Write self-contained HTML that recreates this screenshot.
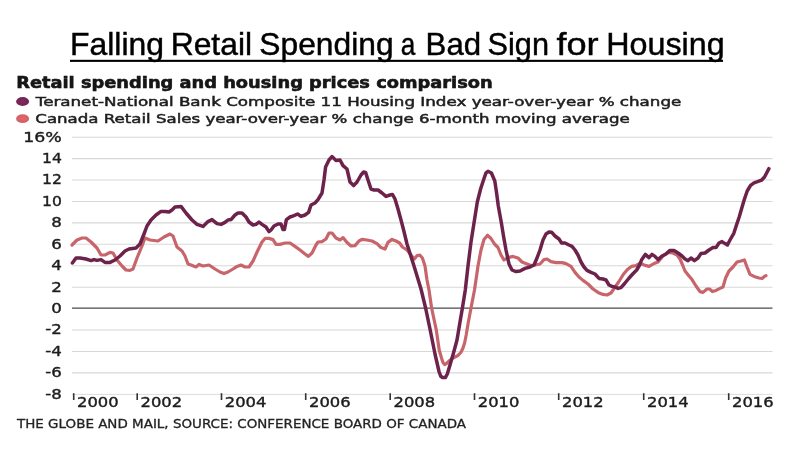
<!DOCTYPE html>
<html lang="en">
<head>
<meta charset="utf-8">
<title>Falling Retail Spending a Bad Sign for Housing</title>
<style>
html,body{margin:0;padding:0;background:#fff;}
body{width:800px;height:450px;overflow:hidden;position:relative;font-family:"Liberation Sans",sans-serif;}
svg{position:absolute;left:0;top:0;display:block;}
.title{font-family:"Liberation Sans",sans-serif;font-size:32px;fill:#000;stroke:#000;stroke-width:0.45px;}
.ct{font-family:"DejaVu Sans","Liberation Sans",sans-serif;font-weight:bold;font-size:15.2px;fill:#141414;stroke:#141414;stroke-width:0.55px;}
.lg{font-family:"DejaVu Sans","Liberation Sans",sans-serif;font-size:13px;fill:#1e1e1e;stroke:#1e1e1e;stroke-width:0.5px;}
.ax text{font-family:"DejaVu Sans","Liberation Sans",sans-serif;font-size:13.3px;fill:#1c1c1c;stroke:#1c1c1c;stroke-width:0.38px;}
.src{font-family:"DejaVu Sans","Liberation Sans",sans-serif;font-size:11.8px;fill:#222;stroke:#222;stroke-width:0.28px;}
</style>
</head>
<body>
<svg width="800" height="450" viewBox="0 0 800 450">
<defs><radialGradient id="gd"><stop offset="0" stop-color="#882a60"/><stop offset="1" stop-color="#6f2450"/></radialGradient><radialGradient id="gl"><stop offset="0" stop-color="#ee5f6a"/><stop offset="1" stop-color="#cd6468"/></radialGradient><filter id="soft" x="0" y="0" width="800" height="450" filterUnits="userSpaceOnUse"><feGaussianBlur stdDeviation="0.45"/></filter></defs>
<rect width="800" height="450" fill="#ffffff"/>
<text class="title" y="55.1"><tspan x="70.01" textLength="94.0" lengthAdjust="spacingAndGlyphs">Falling</tspan> <tspan x="170.66" textLength="81.39" lengthAdjust="spacingAndGlyphs">Retail</tspan> <tspan x="259.31" textLength="134.36" lengthAdjust="spacingAndGlyphs">Spending</tspan> <tspan x="400.73" textLength="14.56" lengthAdjust="spacingAndGlyphs">a</tspan> <tspan x="425.62" textLength="55.51" lengthAdjust="spacingAndGlyphs">Bad</tspan> <tspan x="487.56" textLength="61.4" lengthAdjust="spacingAndGlyphs">Sign</tspan> <tspan x="556.43" textLength="42.24" lengthAdjust="spacingAndGlyphs">for</tspan> <tspan x="606.23" textLength="118.45" lengthAdjust="spacingAndGlyphs">Housing</tspan></text>
<rect x="70" y="59.8" width="653" height="2.1" fill="#000"/>
<g filter="url(#soft)">
<text class="ct" x="16.2" y="87.8" textLength="476.5" lengthAdjust="spacingAndGlyphs">Retail spending and housing prices comparison</text>
<ellipse cx="22.6" cy="101.5" rx="6.5" ry="4.4" fill="url(#gd)"/>
<text class="lg" x="35.8" y="105.8" textLength="645.5" lengthAdjust="spacingAndGlyphs">Teranet-National Bank Composite 11 Housing Index year-over-year % change</text>
<ellipse cx="22.6" cy="118.7" rx="6.5" ry="4.4" fill="url(#gl)"/>
<text class="lg" x="35.3" y="123.4" textLength="594.5" lengthAdjust="spacingAndGlyphs">Canada Retail Sales year-over-year % change 6-month moving average</text>
<g>
<line x1="72" x2="772.5" y1="137.2" y2="137.2" stroke="#d8d8d8" stroke-width="1.1"/>
<line x1="72" x2="772.5" y1="158.6" y2="158.6" stroke="#d8d8d8" stroke-width="1.1"/>
<line x1="72" x2="772.5" y1="180.0" y2="180.0" stroke="#d8d8d8" stroke-width="1.1"/>
<line x1="72" x2="772.5" y1="201.5" y2="201.5" stroke="#d8d8d8" stroke-width="1.1"/>
<line x1="72" x2="772.5" y1="222.9" y2="222.9" stroke="#d8d8d8" stroke-width="1.1"/>
<line x1="72" x2="772.5" y1="244.3" y2="244.3" stroke="#d8d8d8" stroke-width="1.1"/>
<line x1="72" x2="772.5" y1="265.7" y2="265.7" stroke="#d8d8d8" stroke-width="1.1"/>
<line x1="72" x2="772.5" y1="287.2" y2="287.2" stroke="#d8d8d8" stroke-width="1.1"/>
<line x1="72" x2="772.5" y1="330.0" y2="330.0" stroke="#d8d8d8" stroke-width="1.1"/>
<line x1="72" x2="772.5" y1="351.5" y2="351.5" stroke="#d8d8d8" stroke-width="1.1"/>
<line x1="72" x2="772.5" y1="372.9" y2="372.9" stroke="#d8d8d8" stroke-width="1.1"/>
<line x1="72" x2="772.5" y1="308.1" y2="308.1" stroke="#4a4a4a" stroke-width="1.2"/>
<line x1="72" x2="772.5" y1="394.4" y2="394.4" stroke="#dcdcdc" stroke-width="1"/>
</g>
<g class="ax">
<text x="23.2" y="141.6" textLength="38.6" lengthAdjust="spacingAndGlyphs">16%</text>
<text x="42.0" y="163.0" textLength="19.8" lengthAdjust="spacingAndGlyphs">14</text>
<text x="42.0" y="184.4" textLength="19.8" lengthAdjust="spacingAndGlyphs">12</text>
<text x="42.0" y="205.9" textLength="19.8" lengthAdjust="spacingAndGlyphs">10</text>
<text x="51.2" y="227.3" textLength="10.6" lengthAdjust="spacingAndGlyphs">8</text>
<text x="51.2" y="248.7" textLength="10.6" lengthAdjust="spacingAndGlyphs">6</text>
<text x="51.2" y="270.1" textLength="10.6" lengthAdjust="spacingAndGlyphs">4</text>
<text x="51.2" y="291.6" textLength="10.6" lengthAdjust="spacingAndGlyphs">2</text>
<text x="51.2" y="313.0" textLength="10.6" lengthAdjust="spacingAndGlyphs">0</text>
<text x="45.3" y="334.4" textLength="16.5" lengthAdjust="spacingAndGlyphs">-2</text>
<text x="45.3" y="355.9" textLength="16.5" lengthAdjust="spacingAndGlyphs">-4</text>
<text x="45.3" y="377.3" textLength="16.5" lengthAdjust="spacingAndGlyphs">-6</text>
<text x="45.3" y="398.7" textLength="16.5" lengthAdjust="spacingAndGlyphs">-8</text>
<line x1="73.7" x2="73.7" y1="393.2" y2="400" stroke="#333" stroke-width="1.6"/>
<line x1="137.2" x2="137.2" y1="393.2" y2="400" stroke="#333" stroke-width="1.6"/>
<line x1="221.5" x2="221.5" y1="393.2" y2="400" stroke="#333" stroke-width="1.6"/>
<line x1="305.7" x2="305.7" y1="393.2" y2="400" stroke="#333" stroke-width="1.6"/>
<line x1="390.2" x2="390.2" y1="393.2" y2="400" stroke="#333" stroke-width="1.6"/>
<line x1="474.5" x2="474.5" y1="393.2" y2="400" stroke="#333" stroke-width="1.6"/>
<line x1="558.7" x2="558.7" y1="393.2" y2="400" stroke="#333" stroke-width="1.6"/>
<line x1="643.7" x2="643.7" y1="393.2" y2="400" stroke="#333" stroke-width="1.6"/>
<line x1="728.7" x2="728.7" y1="393.2" y2="400" stroke="#333" stroke-width="1.6"/>
<text x="77.0" y="407.4" textLength="41.6" lengthAdjust="spacingAndGlyphs">2000</text>
<text x="140.5" y="407.4" textLength="41.6" lengthAdjust="spacingAndGlyphs">2002</text>
<text x="224.8" y="407.4" textLength="41.6" lengthAdjust="spacingAndGlyphs">2004</text>
<text x="309.0" y="407.4" textLength="41.6" lengthAdjust="spacingAndGlyphs">2006</text>
<text x="393.5" y="407.4" textLength="41.6" lengthAdjust="spacingAndGlyphs">2008</text>
<text x="477.8" y="407.4" textLength="41.6" lengthAdjust="spacingAndGlyphs">2010</text>
<text x="562.0" y="407.4" textLength="41.6" lengthAdjust="spacingAndGlyphs">2012</text>
<text x="647.0" y="407.4" textLength="41.6" lengthAdjust="spacingAndGlyphs">2014</text>
<text x="732.0" y="407.4" textLength="41.6" lengthAdjust="spacingAndGlyphs">2016</text>
</g>
<path d="M72.0,245.0 L77.0,240.0 L82.0,238.0 L86.0,238.0 L91.0,242.0 L97.0,248.0 L101.0,255.0 L105.0,255.0 L110.0,252.4 L113.0,253.0 L117.0,260.0 L122.0,266.0 L126.0,270.0 L130.0,270.4 L133.0,269.0 L137.0,258.0 L142.0,246.0 L145.0,238.0 L150.0,240.0 L158.0,241.0 L164.0,237.0 L170.0,234.0 L173.0,236.0 L177.0,247.0 L182.0,251.0 L185.0,256.0 L188.0,264.0 L191.0,265.0 L196.0,267.0 L199.0,264.4 L203.0,266.0 L209.0,265.0 L215.0,269.0 L220.0,272.0 L224.0,273.6 L228.0,272.0 L233.0,269.0 L237.0,266.4 L241.0,265.0 L245.0,267.0 L249.0,267.0 L253.0,261.0 L258.0,250.0 L262.0,242.0 L265.0,238.4 L269.0,238.4 L273.0,239.6 L276.0,244.4 L280.0,244.4 L285.0,243.0 L290.0,243.0 L295.0,246.4 L300.0,250.0 L305.0,254.0 L308.4,256.4 L312.0,253.0 L316.0,245.0 L318.0,242.0 L322.0,241.6 L326.0,239.0 L329.0,233.0 L332.0,233.0 L336.0,238.0 L340.0,240.0 L343.0,237.6 L347.0,242.5 L351.0,246.0 L355.0,245.6 L359.0,241.0 L362.0,239.4 L367.0,240.0 L372.0,241.0 L377.0,243.6 L381.0,247.6 L385.0,249.0 L388.0,242.4 L392.0,239.4 L396.0,241.0 L399.6,243.0 L402.4,247.0 L407.0,250.0 L411.0,255.0 L414.4,259.0 L417.0,255.6 L420.0,255.2 L422.4,258.0 L425.0,266.0 L427.0,280.0 L429.0,290.0 L431.6,308.0 L436.3,330.0 L439.2,350.0 L441.5,358.0 L443.0,362.5 L444.6,364.5 L446.5,363.5 L448.7,361.3 L452.5,358.3 L455.5,356.8 L457.8,355.6 L460.8,352.5 L463.0,348.0 L464.6,343.0 L466.2,335.0 L468.0,324.0 L471.0,308.0 L474.5,290.0 L478.0,266.0 L481.0,250.0 L484.0,239.5 L487.6,235.3 L491.0,238.5 L494.5,244.0 L498.0,247.5 L501.0,255.0 L504.0,260.0 L508.0,257.6 L513.0,256.4 L518.0,258.0 L522.0,262.0 L527.0,264.0 L531.0,265.6 L535.0,265.0 L540.0,264.0 L544.0,259.6 L547.0,259.0 L551.0,261.6 L556.0,262.6 L562.0,262.6 L566.0,263.6 L571.0,266.4 L575.0,272.4 L579.0,277.0 L583.0,280.4 L588.0,284.0 L593.0,289.0 L598.0,292.4 L603.0,294.4 L607.0,295.0 L611.0,293.0 L614.4,288.0 L618.6,282.0 L623.6,274.0 L627.5,269.5 L631.4,266.4 L636.0,265.6 L640.0,263.0 L644.0,265.0 L649.0,266.4 L654.0,263.6 L658.0,262.0 L663.0,256.0 L668.0,252.4 L673.0,253.0 L677.0,255.0 L680.0,259.0 L683.0,266.0 L685.0,271.0 L689.0,276.0 L692.0,279.6 L696.0,286.0 L700.0,291.6 L703.0,292.4 L707.0,289.0 L709.6,289.0 L712.4,291.6 L716.0,290.4 L720.0,288.4 L723.0,287.0 L725.6,278.0 L729.0,271.0 L733.0,267.0 L737.0,262.0 L741.0,261.0 L744.4,260.0 L747.0,267.0 L750.0,274.4 L754.0,276.4 L759.0,278.0 L762.0,278.4 L764.4,276.4 L766.0,275.6" fill="none" stroke="#c8656b" stroke-width="3.2" stroke-linejoin="round" stroke-linecap="round"/>
<path d="M72.4,263.0 L76.0,258.0 L80.0,258.0 L86.0,259.0 L91.0,260.6 L94.0,259.6 L97.0,260.4 L101.0,259.6 L105.0,262.4 L110.0,262.4 L115.0,260.0 L120.0,256.0 L125.0,251.0 L129.0,249.0 L136.0,248.0 L140.0,244.0 L144.0,234.0 L147.0,226.0 L151.0,220.0 L156.0,215.0 L161.0,211.4 L165.0,211.4 L169.0,212.0 L172.0,210.0 L175.0,207.0 L181.0,206.4 L186.0,213.0 L192.0,220.0 L197.0,224.4 L203.0,226.4 L208.0,221.6 L212.0,219.6 L217.0,223.6 L221.0,224.4 L225.0,222.4 L228.0,220.0 L231.0,219.6 L235.0,215.0 L238.0,213.0 L242.0,213.0 L246.0,217.0 L249.0,222.0 L253.0,225.0 L256.0,224.4 L259.0,222.0 L262.0,224.4 L266.0,227.0 L269.0,231.6 L271.0,230.0 L274.0,226.0 L278.0,224.0 L281.0,224.0 L283.0,229.6 L284.4,229.6 L286.4,219.6 L290.0,217.0 L294.0,215.6 L297.6,214.0 L301.0,216.4 L305.0,215.0 L308.6,212.4 L311.0,205.0 L315.0,203.0 L318.0,199.6 L322.0,193.0 L324.0,180.0 L325.6,167.0 L329.0,160.0 L332.0,156.6 L336.0,160.4 L340.0,160.0 L343.0,165.6 L347.0,169.0 L350.0,182.0 L353.6,185.6 L357.0,182.0 L361.0,175.0 L363.6,172.0 L365.6,172.4 L368.0,180.0 L371.0,189.0 L374.0,190.0 L378.0,190.0 L382.0,193.0 L386.0,196.4 L390.0,195.0 L392.4,194.4 L395.0,199.0 L398.0,209.0 L401.0,220.0 L403.6,230.0 L407.0,244.0 L414.0,266.0 L421.0,289.0 L425.6,308.0 L430.2,330.0 L435.0,354.0 L439.0,371.5 L440.8,376.3 L442.5,377.5 L445.3,377.6 L447.3,374.0 L450.0,365.0 L453.5,353.0 L457.0,340.0 L460.0,322.0 L462.4,308.0 L465.3,290.0 L468.0,266.0 L471.0,242.0 L474.0,223.0 L477.3,202.0 L480.6,189.0 L484.0,178.5 L486.0,172.8 L488.0,171.3 L491.4,173.0 L494.8,181.0 L496.6,193.0 L498.3,206.0 L501.4,223.0 L503.5,236.0 L506.0,250.0 L509.0,264.0 L512.0,270.0 L516.0,271.6 L520.0,271.0 L525.0,268.4 L530.0,267.0 L534.0,265.0 L537.0,258.0 L540.0,250.0 L543.0,240.0 L546.0,234.0 L549.0,232.0 L551.6,232.2 L555.0,236.0 L559.0,239.0 L561.6,243.0 L565.0,243.0 L569.0,245.0 L572.0,246.4 L575.0,250.0 L578.0,255.0 L581.0,262.0 L584.0,267.0 L587.0,270.4 L591.0,272.4 L595.0,274.0 L599.0,278.4 L603.0,279.0 L606.0,280.0 L609.0,285.0 L612.0,286.4 L615.0,287.0 L618.0,288.4 L621.0,287.6 L624.6,283.5 L628.7,278.5 L632.7,274.0 L636.7,270.0 L639.6,265.0 L641.5,260.0 L645.3,254.4 L649.0,257.6 L652.0,254.4 L655.0,256.4 L658.0,259.6 L662.0,256.0 L666.0,254.0 L670.0,250.4 L674.0,250.4 L678.0,253.0 L682.0,256.0 L685.0,259.0 L688.0,260.6 L691.0,258.0 L694.4,260.6 L698.0,258.0 L701.0,253.6 L705.0,253.0 L709.0,250.0 L713.0,247.6 L716.0,247.6 L719.0,243.0 L722.0,241.6 L725.0,243.6 L727.4,245.0 L730.0,240.0 L733.8,233.3 L736.5,225.0 L739.2,217.0 L741.8,208.0 L744.3,199.5 L747.2,191.0 L750.6,185.4 L754.0,182.9 L757.5,181.7 L761.5,180.2 L764.5,177.0 L767.0,172.2 L768.9,168.7" fill="none" stroke="#6d244b" stroke-width="3.5" stroke-linejoin="round" stroke-linecap="round"/>
<text class="src" x="17" y="428" textLength="449" lengthAdjust="spacingAndGlyphs">THE GLOBE AND MAIL, SOURCE: CONFERENCE BOARD OF CANADA</text>
</g>
</svg>
</body>
</html>
